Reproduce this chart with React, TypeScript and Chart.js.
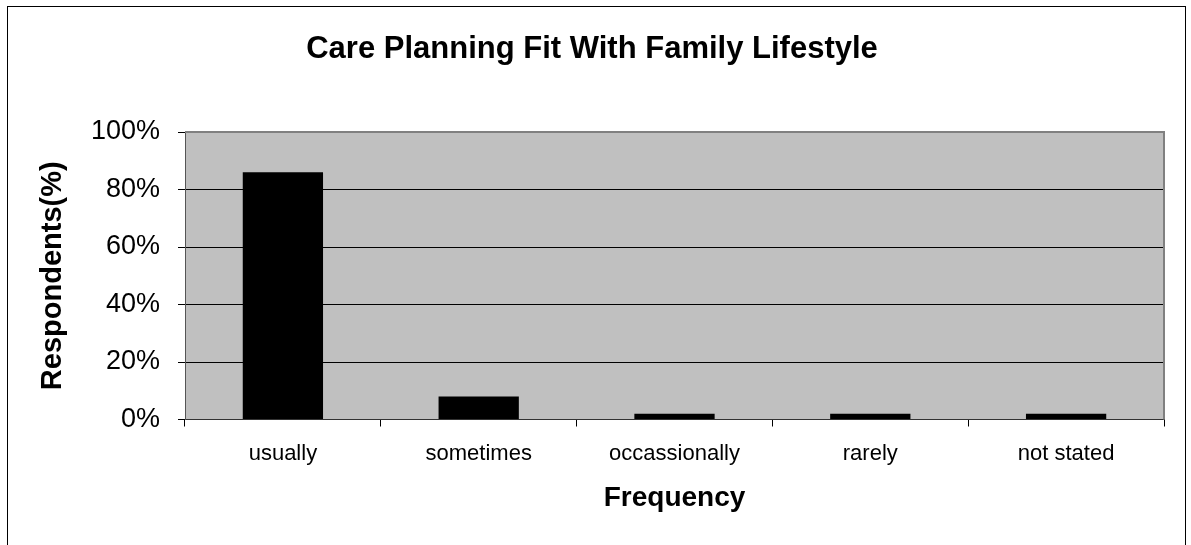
import React, { useEffect, useRef } from "react";
import { Chart, registerables } from "chart.js";

Chart.register(...registerables);

const chartTitle = "Care Planning Fit With Family Lifestyle";
const categories = ["usually", "sometimes", "occassionally", "rarely", "not stated"];
const respondentsPct = [86, 8, 2, 2, 2];
const yTicks = [0, 20, 40, 60, 80, 100];
const yAxisTitle = "Respondents(%)";
const xAxisTitle = "Frequency";

const FONT = "'Liberation Sans', Arial, sans-serif";

const framePlugin = {
  id: "frame",
  beforeDraw(chart: any) {
    const { ctx, chartArea } = chart;
    ctx.save();
    ctx.fillStyle = "#ffffff";
    ctx.fillRect(0, 0, chart.width, chart.height);
    ctx.strokeStyle = "#000000";
    ctx.lineWidth = 1;
    ctx.strokeRect(7.5, 6.5, 1178, 600);
    ctx.fillStyle = "#c0c0c0";
    ctx.fillRect(chartArea.left, chartArea.top, chartArea.right - chartArea.left, chartArea.bottom - chartArea.top);
    ctx.restore();
  },
  afterDatasetsDraw(chart: any) {
    const { ctx, chartArea } = chart;
    ctx.save();
    ctx.strokeStyle = "#808080";
    ctx.lineWidth = 2;
    ctx.beginPath();
    ctx.moveTo(chartArea.left, chartArea.top);
    ctx.lineTo(chartArea.right, chartArea.top);
    ctx.lineTo(chartArea.right, chartArea.bottom);
    ctx.stroke();
    ctx.restore();
  },
};

export default function App() {
  const ref = useRef<HTMLCanvasElement | null>(null);
  useEffect(() => {
    if (!ref.current) return;
    const chart = new Chart(ref.current, {
      type: "bar",
      data: {
        labels: categories,
        datasets: [
          {
            data: respondentsPct,
            backgroundColor: "#000000",
            borderColor: "#000000",
            borderWidth: 0,
            barPercentage: 0.41,
            categoryPercentage: 1,
          },
        ],
      },
      options: {
        animation: false,
        responsive: false,
        devicePixelRatio: 1,
        layout: { padding: { left: 20, right: 27, top: 0, bottom: 10 } },
        plugins: {
          legend: { display: false },
          tooltip: { enabled: false },
          title: {
            display: true,
            text: chartTitle,
            color: "#000000",
            font: { family: FONT, size: 31, weight: "bold" },
            padding: { top: 31, bottom: 63.8 },
          },
        },
        scales: {
          x: {
            grid: {
              display: true,
              drawOnChartArea: false,
              drawTicks: true,
              tickLength: 7,
              color: "#000000",
              offset: true,
            },
            border: { display: true, color: "#333333", width: 1 },
            ticks: {
              color: "#000000",
              font: { family: FONT, size: 22 },
              padding: 14,
              maxRotation: 0,
            },
            title: {
              display: true,
              text: xAxisTitle,
              color: "#000000",
              font: { family: FONT, size: 28, weight: "bold" },
              padding: { top: 0, bottom: 20 },
            },
            afterFit: (s: any) => {
              s.height = 115.5;
            },
          },
          y: {
            min: 0,
            max: 100,
            afterBuildTicks: (s: any) => {
              s.ticks = yTicks.map((v) => ({ value: v }));
            },
            grid: {
              color: "#000000",
              lineWidth: 1,
              tickLength: 7,
              drawTicks: true,
            },
            border: { display: true, color: "#555555", width: 1 },
            ticks: {
              color: "#000000",
              font: { family: FONT, size: 27 },
              padding: 18,
              callback: (v: any) => v + "%",
            },
            title: {
              display: true,
              text: yAxisTitle,
              color: "#000000",
              font: { family: FONT, size: 29, weight: "bold" },
              padding: { top: 15.6, bottom: 0 },
            },
            afterFit: (s: any) => {
              s.width = 165;
            },
          },
        },
      },
      plugins: [framePlugin],
    });
    return () => chart.destroy();
  }, []);
  return (
    <div style={{ position: "absolute", left: 0, top: 0, width: 1191, height: 545 }}>
      <canvas ref={ref} width={1191} height={545} style={{ display: "block" }} />
    </div>
  );
}
